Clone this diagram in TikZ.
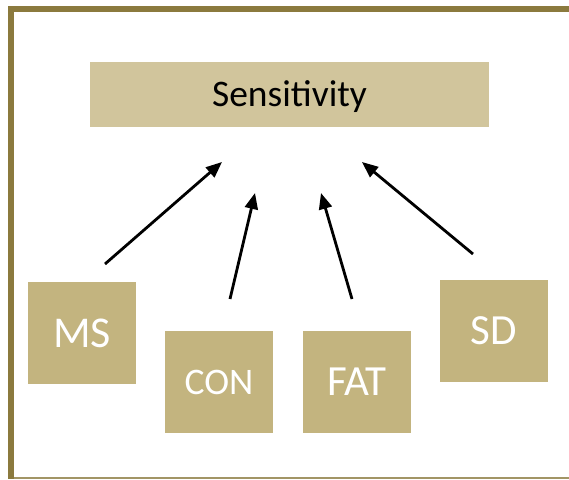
\documentclass[tikz,border=0pt]{standalone}
\usepackage{fontspec}
\setmainfont{Carlito}
\usetikzlibrary{arrows.meta}

\definecolor{frameolive}{HTML}{8B7A3E}
\definecolor{toptan}{HTML}{D1C59C}
\definecolor{boxtan}{HTML}{C3B47F}

\tikzset{
	topbox/.style={fill=toptan, minimum width=399pt, minimum height=65pt, inner sep=0pt, text depth=0pt, font=\fontsize{37.5}{42}\selectfont},
	catbox/.style={fill=boxtan, text=white, minimum width=108pt, minimum height=102pt, inner sep=0pt},
	influence/.style={line width=2.8pt, -{Triangle[length=16pt,width=13pt]}}
}

\begin{document}
\begin{tikzpicture}[x=1pt,y=-1pt]
		\useasboundingbox (0,0) rectangle (569,479);
		% frame
		\fill[frameolive] (8,6) rectangle (569,12);
		\fill[frameolive] (8,6) rectangle (14,479);
		\fill[frameolive!80] (14,477.3) rectangle (569,479);

		\node[topbox] (sens) at (289.5,94) {Sensitivity};

		\node[catbox, font=\fontsize{44}{48}\selectfont] (ms)  at ( 82,333) {MS};
		\node[catbox, font=\fontsize{37.5}{42}\selectfont] (con) at (219,382) {CON};
		\node[catbox, font=\fontsize{43}{47}\selectfont] (fat) at (357,382) {FAT};
		\node[catbox, font=\fontsize{43}{47}\selectfont] (sd)  at (494,331) {SD};

		\coordinate (msTail)  at (105,264);
		\coordinate (msHead)  at (222,162);
		\coordinate (conTail) at (230,299);
		\coordinate (conHead) at (255,193);
		\coordinate (fatTail) at (352,299);
		\coordinate (fatHead) at (321,193);
		\coordinate (sdTail)  at (473,254);
		\coordinate (sdHead)  at (362,162);

		\draw[influence] (msTail) -- (msHead);
		\draw[influence] (conTail) -- (conHead);
		\draw[influence] (fatTail) -- (fatHead);
		\draw[influence] (sdTail) -- (sdHead);
	\end{tikzpicture}
\end{document}
